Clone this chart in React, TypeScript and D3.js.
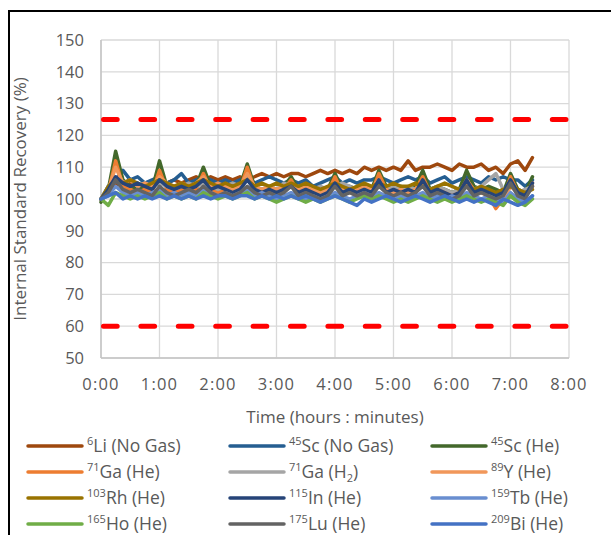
import React from 'react';
import * as d3 from 'd3';

// sample times in minutes
const minutes = [
  0, 7.5, 15, 22.5, 30, 37.5, 45, 52.5, 60, 67.5, 75, 82.5, 90, 97.5, 105, 112.5, 120, 127.5, 135, 142.5,
  150, 157.5, 165, 172.5, 180, 187.5, 195, 202.5, 210, 217.5, 225, 232.5, 240, 247.5, 255, 262.5, 270, 277.5, 285, 292.5,
  300, 307.5, 315, 322.5, 330, 337.5, 345, 352.5, 360, 367.5, 375, 382.5, 390, 397.5, 405, 412.5, 420, 427.5, 435, 442.5,
];

const li = [100, 102, 105, 104, 105, 104, 105, 104, 106, 105, 106, 105, 106, 107, 106, 107, 106, 107, 106, 107,
  106, 107, 108, 107, 108, 107, 108, 108, 107, 108, 109, 108, 109, 108, 109, 108, 110, 109, 110, 109,
  110, 109, 112, 109, 110, 110, 111, 110, 109, 111, 110, 110, 111, 109, 110, 108, 111, 112, 109, 113];
const scNoGas = [100, 104, 106, 109, 106, 107, 105, 106, 107, 105, 106, 108, 105, 106, 107, 106, 105, 106, 105, 106,
  107, 105, 106, 107, 106, 105, 106, 105, 106, 104, 105, 106, 107, 105, 106, 105, 106, 106, 107, 106,
  105, 106, 107, 106, 107, 105, 106, 107, 105, 106, 107, 106, 105, 107, 106, 107, 106, 106, 104, 106];
const scHe = [99, 103, 115, 106, 104, 103, 104, 103, 112, 104, 103, 104, 103, 104, 110, 104, 103, 104, 103, 104,
  111, 104, 103, 104, 103, 104, 107, 103, 104, 103, 102, 103, 108, 103, 104, 103, 104, 103, 109, 104,
  103, 104, 103, 104, 109, 103, 104, 103, 102, 103, 109, 104, 103, 104, 103, 102, 108, 103, 102, 107];
const gaHe = [100, 102, 112, 104, 103, 102, 103, 102, 109, 103, 102, 103, 102, 103, 108, 103, 102, 103, 102, 103,
  110, 103, 102, 103, 102, 103, 106, 102, 103, 102, 101, 102, 107, 102, 103, 102, 103, 102, 108, 103,
  102, 103, 102, 103, 107, 102, 103, 102, 101, 102, 106, 103, 102, 101, 97, 100, 107, 102, 101, 105];
const gaH2 = [100, 104, 106, 105, 106, 104, 105, 104, 105, 104, 103, 104, 105, 104, 105, 104, 103, 104, 105, 104,
  103, 104, 103, 104, 103, 105, 104, 103, 104, 103, 104, 103, 104, 105, 104, 103, 104, 103, 104, 103,
  104, 103, 104, 103, 104, 103, 104, 103, 102, 103, 104, 103, 104, 106, 108, 103, 104, 102, 103, 104];
const yHe = [100, 103, 110, 105, 106, 104, 105, 104, 107, 105, 104, 105, 104, 105, 107, 104, 105, 104, 103, 104,
  108, 104, 103, 104, 103, 104, 105, 103, 104, 103, 102, 103, 105, 103, 102, 103, 104, 103, 106, 103,
  102, 103, 102, 103, 105, 102, 103, 102, 101, 102, 105, 102, 103, 102, 101, 100, 104, 102, 101, 104];
const rhHe = [100, 104, 106, 105, 106, 105, 104, 105, 106, 105, 104, 105, 104, 105, 106, 105, 104, 105, 104, 105,
  106, 104, 105, 104, 105, 104, 105, 104, 105, 104, 103, 104, 105, 104, 103, 104, 105, 104, 105, 104,
  105, 104, 104, 105, 104, 103, 104, 105, 104, 103, 104, 103, 104, 103, 102, 103, 104, 103, 102, 103];
const inHe = [100, 103, 107, 105, 104, 105, 104, 103, 106, 104, 103, 104, 103, 104, 106, 103, 104, 103, 102, 103,
  106, 103, 102, 103, 102, 103, 104, 102, 103, 102, 101, 102, 105, 102, 103, 102, 103, 102, 106, 102,
  103, 102, 103, 102, 106, 102, 103, 102, 101, 102, 106, 102, 103, 102, 101, 102, 106, 102, 101, 105];
const tbHe = [100, 101, 104, 102, 101, 102, 101, 102, 103, 101, 102, 101, 102, 101, 103, 102, 101, 102, 101, 102,
  103, 101, 102, 101, 100, 101, 102, 101, 100, 101, 100, 101, 102, 101, 100, 101, 102, 101, 102, 101,
  100, 101, 100, 101, 102, 100, 101, 100, 101, 100, 102, 101, 100, 101, 100, 99, 102, 100, 99, 101];
const hoHe = [100, 98, 102, 101, 100, 101, 100, 101, 102, 100, 101, 100, 101, 100, 102, 101, 100, 101, 100, 101,
  102, 100, 101, 100, 99, 100, 101, 100, 99, 100, 99, 100, 101, 100, 99, 100, 101, 100, 101, 100,
  99, 100, 99, 100, 101, 100, 99, 100, 99, 100, 101, 100, 99, 100, 99, 98, 101, 99, 98, 100];
const luHe = [100, 102, 106, 103, 102, 103, 102, 101, 104, 102, 101, 102, 103, 102, 104, 102, 101, 102, 101, 102,
  104, 102, 101, 102, 101, 102, 104, 101, 102, 101, 100, 101, 104, 101, 102, 101, 102, 101, 104, 102,
  101, 102, 101, 102, 104, 101, 102, 101, 100, 101, 104, 101, 102, 101, 100, 101, 105, 101, 100, 104];
const biHe = [100, 101, 102, 100, 101, 100, 101, 100, 101, 100, 101, 100, 101, 100, 101, 100, 101, 101, 100, 101,
  101, 100, 101, 100, 101, 100, 101, 100, 101, 100, 99, 100, 101, 100, 99, 98, 100, 99, 100, 101,
  100, 99, 100, 101, 100, 99, 100, 101, 100, 99, 100, 99, 100, 99, 98, 100, 99, 98, 99, 101];

const series = [
  { iso: '6', name: 'Li (No Gas)', color: '#9E480E', values: li },
  { iso: '45', name: 'Sc (No Gas)', color: '#255E91', values: scNoGas },
  { iso: '45', name: 'Sc (He)', color: '#43682B', values: scHe },
  { iso: '71', name: 'Ga (He)', color: '#ED7D31', values: gaHe },
  { iso: '71', name: 'Ga (H2)', color: '#A5A5A5', values: gaH2 },
  { iso: '89', name: 'Y (He)', color: '#F1975A', values: yHe },
  { iso: '103', name: 'Rh (He)', color: '#997300', values: rhHe },
  { iso: '115', name: 'In (He)', color: '#264478', values: inHe },
  { iso: '159', name: 'Tb (He)', color: '#698ED0', values: tbHe },
  { iso: '165', name: 'Ho (He)', color: '#70AD47', values: hoHe },
  { iso: '175', name: 'Lu (He)', color: '#636363', values: luHe },
  { iso: '209', name: 'Bi (He)', color: '#4472C4', values: biHe },
];

const yTicks = [50, 60, 70, 80, 90, 100, 110, 120, 130, 140, 150];
const xTicks = [0, 60, 120, 180, 240, 300, 360, 420, 480];
const limits = [125, 60];

const W = 611;
const H = 535;
const FONT = '"Open Sans", "Noto Sans", sans-serif';
const TXT = '#595959';

export default function App() {
  const x = d3.scaleLinear().domain([0, 480]).range([101, 569]);
  const y = d3.scaleLinear().domain([50, 150]).range([358, 40]);
  const line = d3.line<number>()
    .x((_, i) => x(minutes[i]))
    .y(d => y(d));
  const fmt = (m: number) => `${Math.floor(m / 60)}:${String(m % 60).padStart(2, '0')}`;

  const legendCols = [28, 230, 432];
  const legendRows = [446, 472, 498, 524];

  return (
    <svg width={W} height={H} style={{ position: 'absolute', left: 0, top: 0, background: '#fff' }}
      fontFamily={FONT}>
      {/* frame */}
      <path d={`M9,${H} V11 H${W}`} fill="none" stroke="#000" strokeWidth={2} />

      {/* grid */}
      {yTicks.map(t => (
        <line key={'gy' + t} x1={x(0)} x2={x(480)} y1={y(t)} y2={y(t)} stroke="#d9d9d9" strokeWidth={1.3} />
      ))}
      {xTicks.map(t => (
        <line key={'gx' + t} x1={x(t)} x2={x(t)} y1={y(50)} y2={y(150)} stroke="#d9d9d9" strokeWidth={1.3} />
      ))}
      <line x1={x(0)} x2={x(0)} y1={y(50)} y2={y(150)} stroke="#c4c4c4" strokeWidth={1.5} />
      <line x1={x(0)} x2={x(480)} y1={y(50)} y2={y(50)} stroke="#c4c4c4" strokeWidth={1.5} />

      {/* tick labels */}
      {yTicks.map(t => (
        <text key={'ly' + t} x={84} y={y(t)} dy="0.35em" textAnchor="end" fontSize={16.5} fill={TXT}>{t}</text>
      ))}
      {xTicks.map(t => (
        <text key={'lx' + t} x={x(t)} y={y(50) + 32} textAnchor="middle" fontSize={16.5} fill={TXT}
          letterSpacing={1.2}>{fmt(t)}</text>
      ))}

      {/* axis titles */}
      <text x={(x(0) + x(480)) / 2} y={423} textAnchor="middle" fontSize={17} fill={TXT}>Time (hours : minutes)</text>
      <text transform={`translate(26,${(y(50) + y(150)) / 2}) rotate(-90)`} textAnchor="middle" fontSize={17}
        fill={TXT}>Internal Standard Recovery (%)</text>

      {/* series */}
      {series.map(s => (
        <path key={s.iso + s.name} d={line(s.values) || ''} fill="none" stroke={s.color} strokeWidth={3.5}
          strokeLinejoin="round" strokeLinecap="round" />
      ))}

      {/* limit lines */}
      {limits.map(l => (
        <line key={'lim' + l} x1={x(0) + 2.5} x2={x(480)} y1={y(l)} y2={y(l)} stroke="#FF0000" strokeWidth={5}
          strokeDasharray="13.7 23.7" strokeLinecap="round" />
      ))}

      {/* legend */}
      {series.map((s, i) => {
        const cx = legendCols[i % 3];
        const cy = legendRows[Math.floor(i / 3)];
        const isH2 = s.name === 'Ga (H2)';
        return (
          <g key={'lg' + i}>
            <line x1={cx} x2={cx + 54} y1={cy} y2={cy} stroke={s.color} strokeWidth={3.5} strokeLinecap="round" />
            <text x={cx + 59} y={cy + 6} fontSize={17.5} fill={TXT}>
              <tspan fontSize={11} dy={-7}>{s.iso}</tspan>
              {isH2 ? (
                <>
                  <tspan dy={7}>Ga (H</tspan>
                  <tspan fontSize={11} dy={4}>2</tspan>
                  <tspan dy={-4}>)</tspan>
                </>
              ) : (
                <tspan dy={7}>{s.name}</tspan>
              )}
            </text>
          </g>
        );
      })}
    </svg>
  );
}
